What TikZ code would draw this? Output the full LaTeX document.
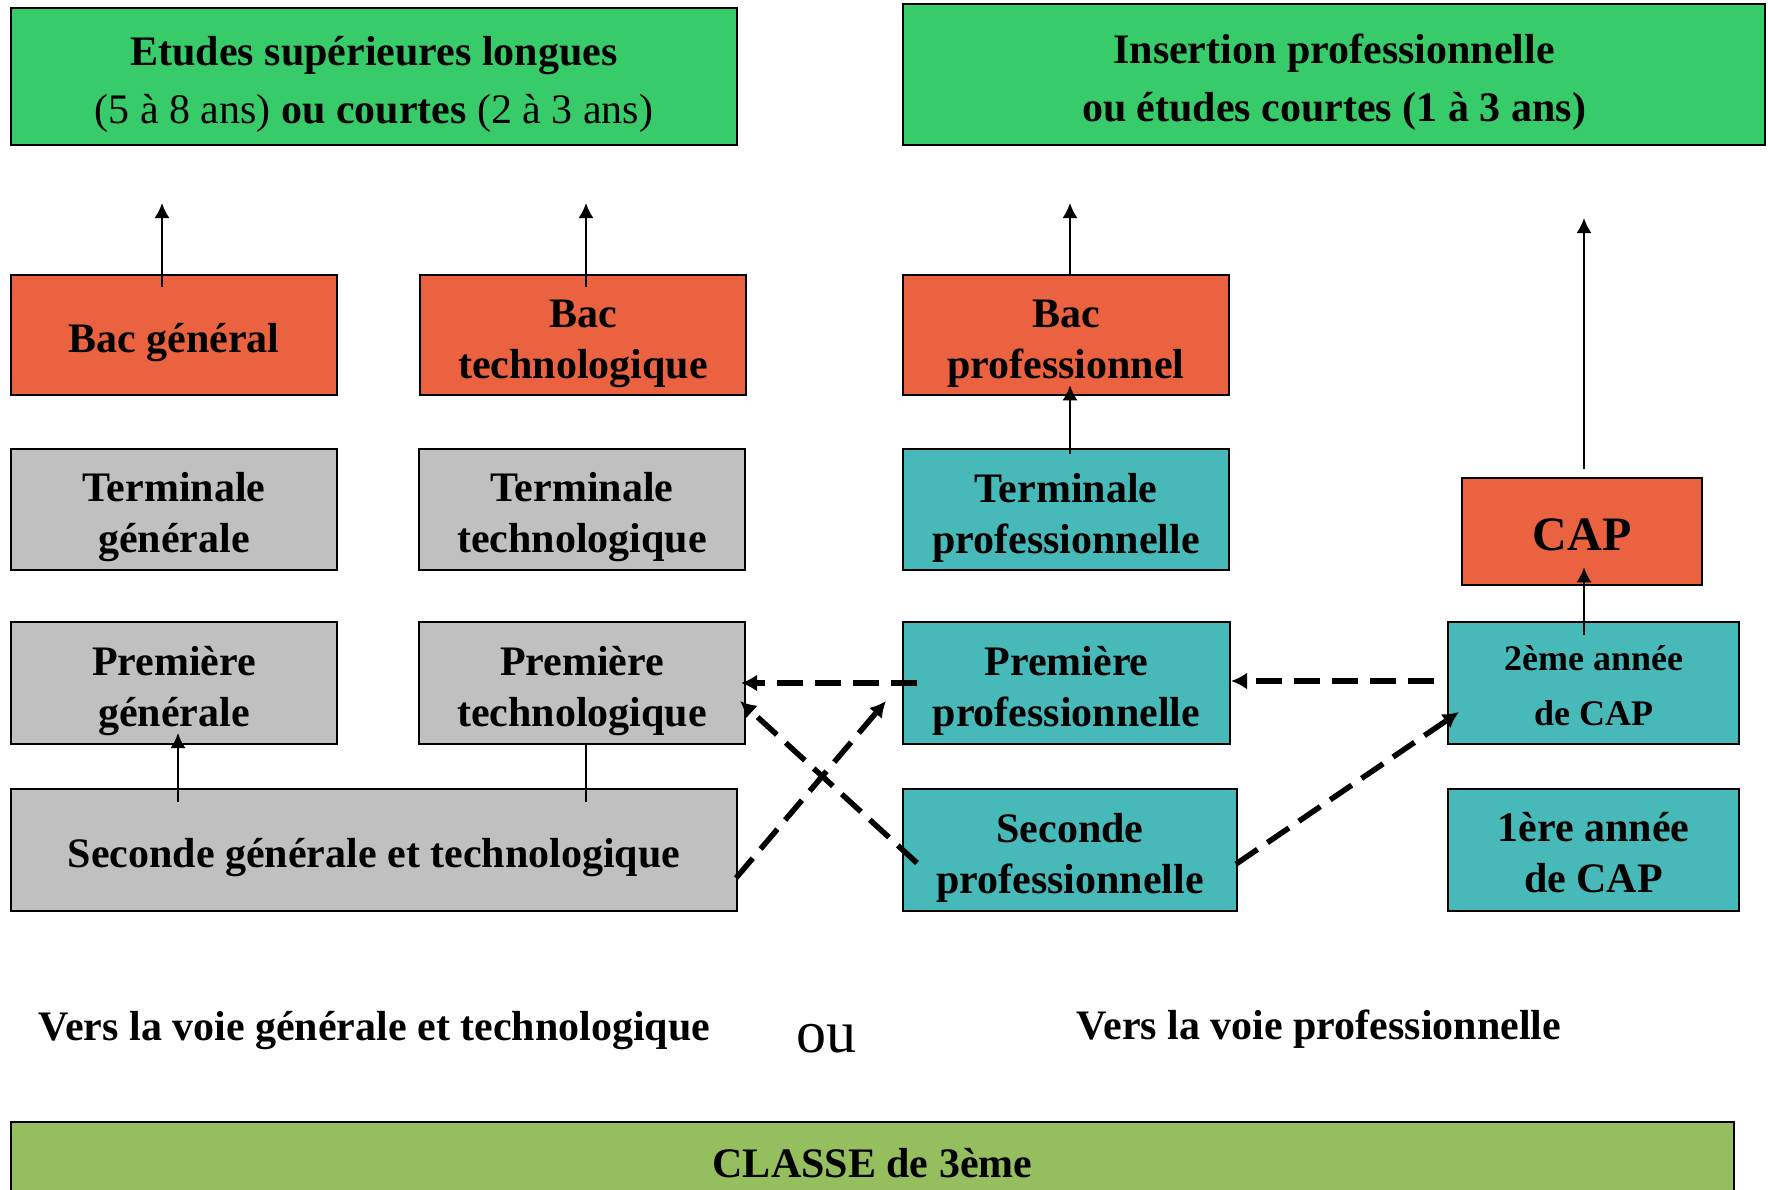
\documentclass[tikz,border=0pt]{standalone}
\usepackage{fontspec}
\setmainfont{Liberation Serif}
\usetikzlibrary{arrows.meta,calc}
\definecolor{topgreen}{RGB}{56,203,106}
\definecolor{bacred}{RGB}{235,98,64}
\definecolor{lgray}{RGB}{192,192,192}
\definecolor{teal2}{RGB}{71,185,184}
\definecolor{olive2}{RGB}{149,190,95}
\newcommand\mystrutA{\rule{0pt}{45pt}}
\newcommand\mystrutB[1]{\rule{0pt}{#1}}
\begin{document}
\begin{tikzpicture}[x=1pt,y=-1pt,
  box/.style={draw=black,line width=2pt,rectangle,inner sep=0pt,align=center,
    font=\fontsize{42}{51}\selectfont\bfseries},
  topbox/.style={box,fill=topgreen,font=\fontsize{42}{58}\selectfont\bfseries},
  bacbox/.style={box,fill=bacred,line width=2.5pt},
  graybox/.style={box,fill=lgray},
  tealbox/.style={box,fill=teal2},
  arr/.style={line width=2pt,-{Latex[length=15pt,width=15pt]}},
  darr/.style={line width=5.5pt,dash pattern=on 26pt off 12pt,-{Latex[length=16pt,width=17pt]}},
  lbl/.style={inner sep=0pt,font=\fontsize{42}{51}\selectfont\bfseries}]
\clip (0,0) rectangle (1768,1189);
\fill[white] (0,0) rectangle (1768,1189);

% top boxes
\node[topbox,minimum width=726pt,minimum height=137pt] (top1) at (374,76.5)
  {\mystrutA Etudes supérieures longues\\{\mdseries (5 à 8 ans)} ou courtes {\mdseries (2 à 3 ans)}};
\node[topbox,minimum width=862pt,minimum height=141pt] (top2) at (1334,74.5)
  {\mystrutA Insertion professionnelle\\ou études courtes (1 à 3 ans)};

% bac row
\node[bacbox,minimum width=326pt,minimum height=120pt] (bacG) at (174,335) {\mystrutA Bac général};
\node[bacbox,minimum width=326pt,minimum height=120pt] (bacT) at (583,335) {\mystrutA Bac\\technologique};
\node[bacbox,minimum width=326pt,minimum height=120pt] (bacP) at (1066,335) {\mystrutA Bac\\professionnel};

% terminale row
\node[graybox,minimum width=326pt,minimum height=121pt] (termG) at (174,509.5) {\mystrutA Terminale\\générale};
\node[graybox,minimum width=326pt,minimum height=121pt] (termT) at (582,509.5) {\mystrutA Terminale\\technologique};
\node[tealbox,minimum width=326pt,minimum height=121pt] (termP) at (1066,509.5) {\mystrutA Terminale\\professionnelle};
\node[bacbox,minimum width=240pt,minimum height=107pt,font=\fontsize{48}{56}\selectfont\bfseries] (cap) at (1582,531.5) {\mystrutB{38pt}CAP};

% premiere row
\node[graybox,minimum width=326pt,minimum height=122pt] (premG) at (174,683) {\mystrutA Première\\générale};
\node[graybox,minimum width=326pt,minimum height=122pt] (premT) at (582,683) {\mystrutA Première\\technologique};
\node[tealbox,minimum width=327pt,minimum height=122pt] (premP) at (1066.5,683) {\mystrutA Première\\professionnelle};
\node[tealbox,minimum width=291pt,minimum height=122pt,font=\fontsize{36}{55}\selectfont\bfseries] (cap2) at (1593.5,683) {\mystrutB{30pt}2ème année\\de CAP};

% seconde row
\node[graybox,minimum width=726pt,minimum height=122pt] (secGT) at (374,850) {\mystrutA Seconde générale et technologique};
\node[tealbox,minimum width=334pt,minimum height=122pt] (secP) at (1070,850) {\mystrutA Seconde\\professionnelle};
\node[tealbox,minimum width=291pt,minimum height=122pt] (cap1) at (1593.5,850) {\mystrutB{35pt}1ère année\\de CAP};

% labels
\node[lbl] (voieGT) at (374.5,1031) {Vers la voie générale et technologique};
\node[inner sep=0pt,font=\fontsize{60}{60}\selectfont] (ou) at (826,1039) {ou};
\node[lbl] (voieP) at (1319,1029) {Vers la voie professionnelle};

% bottom box
\node[box,fill=olive2,minimum width=1723pt,minimum height=83pt] (classe) at (872.5,1163.5) {CLASSE de 3ème};

% solid arrows
\draw[arr] ($(bacG.north)+(-12,13)$) -- ($(top1.south)+(-212,57)$);
\draw[arr] ($(bacT.north)+(3,13)$) -- ($(top1.south)+(212,57)$);
\draw[arr] ($(bacP.north)+(4,0)$) -- ($(top2.south)+(-264,57)$);
\draw[arr] ($(termP.north)+(4,6)$) -- ($(bacP.south)+(4,-11)$);
\draw[arr] ($(cap.north)+(2,-8)$) -- ($(top2.south)+(250,72)$);
\draw[arr] ($(cap2.north)+(-9.5,14)$) -- ($(cap.south)+(2,-19)$);
\draw[arr] ($(secGT.north)+(-196,14)$) -- ($(premG.south)+(4,-12)$);
\draw[line width=2pt] ($(secGT.north)+(212,14)$) -- ($(premT.south)+(4,0)$);

% dashed arrows
\draw[darr] ($(premP.west)+(15,0)$) -- ($(premT.east)+(-5,0)$);
\draw[darr] ($(cap2.west)+(-13,-2)$) -- ($(premP.east)+(0,-2)$);
\draw[darr] ($(secP.west)+(15,13)$) -- ($(premT.east)+(-6,18)$);
\draw[darr] ($(secGT.east)+(-2,28)$) -- ($(premP.west)+(-16,18)$);
\draw[darr] ($(secP.east)+(-2,14)$) -- ($(cap2.west)+(12,29)$);
\end{tikzpicture}
\end{document}
